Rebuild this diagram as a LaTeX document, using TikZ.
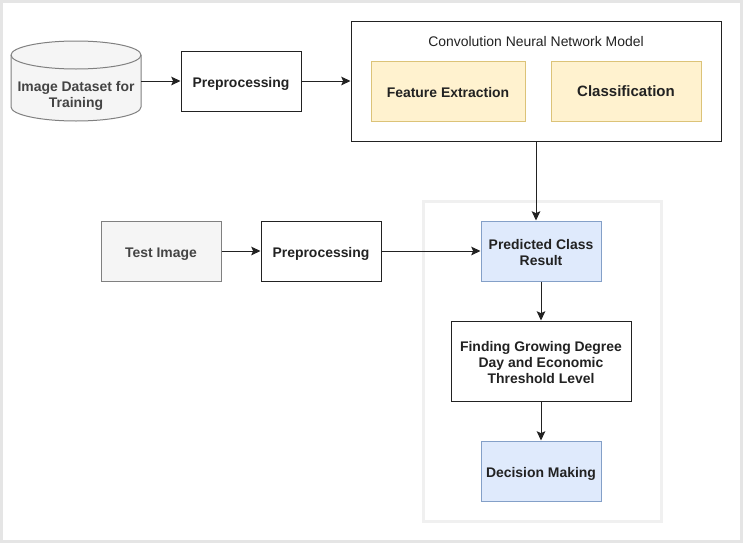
\documentclass[tikz,border=0pt]{standalone}
\usepackage{fontspec}
\setmainfont{Liberation Sans}
\usetikzlibrary{arrows.meta}
\definecolor{inkc}{HTML}{222222}
\definecolor{txtc}{HTML}{444444}
\definecolor{greyline}{HTML}{808080}
\definecolor{greyfill}{HTML}{F5F5F5}
\definecolor{yelfill}{HTML}{FFF2CF}
\definecolor{yelline}{HTML}{DCC378}
\definecolor{bluefill}{HTML}{DFEAFC}
\definecolor{blueline}{HTML}{84A0C8}
\newcommand{\lowr}[1]{\rule{0pt}{#1pt}}
\tikzset{
  x=0.75pt,y=-0.75pt,
  box/.style={rectangle,draw=inkc,line width=0.75pt,fill=white,inner sep=0pt,align=center,text=inkc,font=\fontsize{10.45}{12}\selectfont\bfseries},
  yelbox/.style={box,draw=yelline,fill=yelfill},
  bluebox/.style={box,draw=blueline,fill=bluefill},
  greybox/.style={box,draw=greyline,fill=greyfill,text=txtc},
  conn/.style={draw=inkc,line width=0.75pt,-{Stealth[length=7pt,width=6.5pt,inset=1.5pt]}},
}
\begin{document}
\begin{tikzpicture}
\useasboundingbox (0,0) rectangle (743,543);
\fill[white] (0,0) rectangle (743,543);
\draw[draw=black!10,line width=2.25pt] (1.5,1.5) rectangle (741.5,541.5);
\node[rectangle,draw=black!6,line width=2.25pt,fill=white,minimum width=238*0.75pt,minimum height=320*0.75pt,inner sep=0pt] (grp) at (542,361) {};
\path[fill=greyfill,draw=greyline,line width=0.75pt] (11,55)
  .. controls (11,47.3) and (40.1,41) .. (76,41)
  .. controls (111.9,41) and (141,47.3) .. (141,55)
  -- (141,107)
  .. controls (141,114.7) and (111.9,121) .. (76,121)
  .. controls (40.1,121) and (11,114.7) .. (11,107) -- cycle;
\draw[draw=greyline,line width=0.75pt] (11,55)
  .. controls (11,62.7) and (40.1,69) .. (76,69)
  .. controls (111.9,69) and (141,62.7) .. (141,55);
\node[rectangle,minimum width=130*0.75pt,minimum height=80*0.75pt,inner sep=0pt] (data) at (76,81) {};
\node[align=center,text=txtc,inner sep=0pt,font=\fontsize{10.45}{12}\selectfont\bfseries] (datalabel) at (76,96) {Image Dataset for\\Training};
\node[box,minimum width=120*0.75pt,minimum height=60*0.75pt] (pre1) at (241,81) {\lowr{12.5}Preprocessing};
\node[box,minimum width=370*0.75pt,minimum height=120*0.75pt] (cnn) at (536,81) {};
\node[inner sep=0pt,text=inkc,font=\fontsize{10.45}{12}\selectfont] (cnnlabel) at (536,41.7) {Convolution Neural Network Model};
\node[yelbox,minimum width=154*0.75pt,minimum height=60*0.75pt] (feat) at (448,91) {\lowr{9.5}Feature Extraction};
\node[yelbox,font=\fontsize{11.25}{13}\selectfont\bfseries,minimum width=150*0.75pt,minimum height=60*0.75pt] (cls) at (626,91) {\lowr{8.5}Classification};
\node[greybox,minimum width=120*0.75pt,minimum height=60*0.75pt] (test) at (161,251) {\lowr{12.5}Test Image};
\node[box,minimum width=120*0.75pt,minimum height=60*0.75pt] (pre2) at (321,251) {\lowr{12.5}Preprocessing};
\node[bluebox,minimum width=120*0.75pt,minimum height=60*0.75pt] (pred) at (541,251) {\lowr{9.5}Predicted Class\\Result};
\node[box,minimum width=180*0.75pt,minimum height=80*0.75pt] (find) at (541,361) {\lowr{9.5}Finding Growing Degree\\Day and Economic\\Threshold Level};
\node[bluebox,minimum width=120*0.75pt,minimum height=60*0.75pt] (dec) at (541,471) {\lowr{12.5}Decision Making};
\draw[conn] (data.east) -- (pre1.west);
\draw[conn] (pre1.east) -- (cnn.west);
\draw[conn] (cnn.south) -- (cnn.south |- pred.north);
\draw[conn] (test.east) -- (pre2.west);
\draw[conn] (pre2.east) -- (pred.west);
\draw[conn] (pred.south) -- (find.north);
\draw[conn] (find.south) -- (dec.north);
\end{tikzpicture}
\end{document}
